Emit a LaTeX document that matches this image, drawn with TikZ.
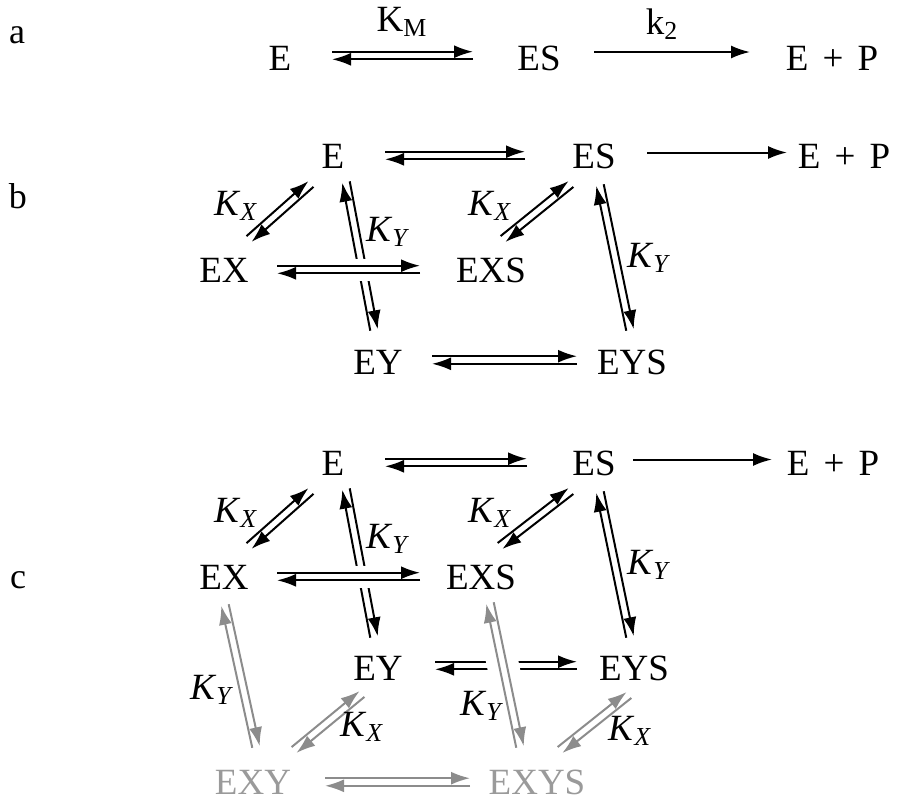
\documentclass[tikz,border=0pt]{standalone}
\usepackage{fontspec}
\setmainfont{Liberation Serif}[Ligatures=TeX]
\usetikzlibrary{arrows.meta,calc}
\definecolor{kingray}{HTML}{8C8C8C}
\definecolor{kingraytext}{HTML}{9A9A9A}
% two opposed half-offset lines between two named points
\newcommand{\EqArrow}[3][]{%
  \draw[fwd,#1] ($(#2)!1.9pt!90:(#3)$) -- ($(#3)!1.9pt!-90:(#2)$);
  \draw[fwd,#1] ($(#3)!1.9pt!90:(#2)$) -- ($(#2)!1.9pt!-90:(#3)$);
}
\newcommand{\Kx}{\textit{K}\textsubscript{\textit{X}}}
\newcommand{\Ky}{\textit{K}\textsubscript{\textit{Y}}}
\newcommand{\EP}{E\hspace{0.38em}+\hspace{0.38em}P}

\begin{document}
\begin{tikzpicture}[
    x=0.5pt, y=-0.5pt,
    species/.style={font=\fontsize{18.5}{20}\selectfont, inner sep=0pt},
    faded/.style={species, text=kingraytext},
    klbl/.style={font=\fontsize{18.5}{20}\selectfont, inner sep=0pt},
    panel/.style={font=\fontsize{18}{20}\selectfont, inner sep=0pt},
    fwd/.style={line width=1pt, -{Latex[length=9.5pt,width=6.5pt]}},
    halo/.style={white, line width=#1},
]
\useasboundingbox (0,0) rectangle (912,800);

%% panel a
\node[panel] (lblA) at (17,35) {a};
\node[species] (aE)  at (280,58) {E};
\node[species] (aES) at (539,58) {ES};
\node[species] (aEP) at (832,58) {\EP};
\coordinate (aL1) at (332,55.5); \coordinate (aR1) at (473,55.5);
\coordinate (aL2) at (594,52);   \coordinate (aR2) at (750,52);
\EqArrow{aL1}{aR1}
\draw[fwd] (aL2) -- (aR2);
\node[klbl] (aKM) at (402,22) {K\textsubscript{M}};
\node[klbl] (ak2) at (662,24) {k\textsubscript{2}};

%% panel b
\node[panel] (lblB) at (18,196) {b};
\node[species] (bE)   at (333,156) {E};
\node[species] (bES)  at (594,156) {ES};
\node[species] (bEP)  at (844,156) {\EP};
\node[species] (bEX)  at (224,270) {EX};
\node[species] (bEXS) at (491,270) {EXS};
\node[species] (bEY)  at (378,362) {EY};
\node[species] (bEYS) at (632,362) {EYS};

\coordinate (bE1) at (249,239); \coordinate (bE2) at (311,184);
\coordinate (bV1) at (346,182); \coordinate (bV2) at (374,330);
\coordinate (bS1) at (503,239); \coordinate (bS2) at (571,184);
\coordinate (bW1) at (600,185); \coordinate (bW2) at (630,330);
\EqArrow{bE1}{bE2}
\EqArrow{bV1}{bV2}
\EqArrow{bS1}{bS2}
\EqArrow{bW1}{bW2}

\coordinate (bH1) at (385,155.5); \coordinate (bH2) at (525,155.5);
\coordinate (bP1) at (647,152.5); \coordinate (bP2) at (787,152.5);
\coordinate (bX1) at (277,269.5); \coordinate (bX2) at (420,269.5);
\coordinate (bY1) at (432,360);   \coordinate (bY2) at (577,360);
\EqArrow{bH1}{bH2}
\draw[fwd] (bP1) -- (bP2);
\draw[halo=11pt] (bX1) -- (bX2);
\EqArrow{bX1}{bX2}
\EqArrow{bY1}{bY2}

\node[klbl] at (236,206) {\Kx};
\node[klbl] at (388,232) {\Ky};
\node[klbl] at (490,206) {\Kx};
\node[klbl] at (649,258) {\Ky};

%% panel c
\node[panel] (lblC) at (18,580) {c};
\node[species] (cE)    at (333,463) {E};
\node[species] (cES)   at (594,463) {ES};
\node[species] (cEP)   at (833,463) {\EP};
\node[species] (cEX)   at (224,577) {EX};
\node[species] (cEXS)  at (481,577) {EXS};
\node[species] (cEY)   at (378,668) {EY};
\node[species] (cEYS)  at (634,668) {EYS};
\node[faded]   (cEXY)  at (253,782) {EXY};
\node[faded]   (cEXYS) at (537,782) {EXYS};

\coordinate (cE1) at (249,546); \coordinate (cE2) at (311,491);
\coordinate (cV1) at (346,489); \coordinate (cV2) at (374,637);
\coordinate (cS1) at (500,546); \coordinate (cS2) at (571,491);
\coordinate (cW1) at (600,492); \coordinate (cW2) at (630,637);
\EqArrow{cE1}{cE2}
\EqArrow{cV1}{cV2}
\EqArrow{cS1}{cS2}
\EqArrow{cW1}{cW2}

\coordinate (cH1) at (385,462.5); \coordinate (cH2) at (527,462.5);
\coordinate (cP1) at (633,459.5); \coordinate (cP2) at (772,459.5);
\coordinate (cX1) at (277,576.5); \coordinate (cX2) at (420,576.5);
\coordinate (cY1) at (435,665.5); \coordinate (cY2) at (577,665.5);
\EqArrow{cH1}{cH2}
\draw[fwd] (cP1) -- (cP2);
\draw[halo=11pt] (cX1) -- (cX2);
\EqArrow{cX1}{cX2}
\EqArrow{cY1}{cY2}

% faded branch
\coordinate (gA1) at (225,605); \coordinate (gA2) at (256,747);
\coordinate (gB1) at (294,750); \coordinate (gB2) at (362,694);
\coordinate (gC1) at (490,603); \coordinate (gC2) at (520,747);
\coordinate (gD1) at (560,750); \coordinate (gD2) at (629,695);
\coordinate (gH1) at (325,782); \coordinate (gH2) at (470,782);
\EqArrow[kingray]{gA1}{gA2}
\EqArrow[kingray]{gB1}{gB2}
\draw[halo=16pt] (gC1) -- (gC2);
\EqArrow[kingray]{gC1}{gC2}
\EqArrow[kingray]{gD1}{gD2}
\EqArrow[kingray]{gH1}{gH2}

\node[klbl] at (236,513) {\Kx};
\node[klbl] at (388,539) {\Ky};
\node[klbl] at (490,513) {\Kx};
\node[klbl] at (649,565) {\Ky};
\node[klbl] at (212,690) {\Ky};
\node[klbl] at (362,727) {\Kx};
\node[klbl] at (482,706) {\Ky};
\node[klbl] at (630,731) {\Kx};
\end{tikzpicture}
\end{document}
